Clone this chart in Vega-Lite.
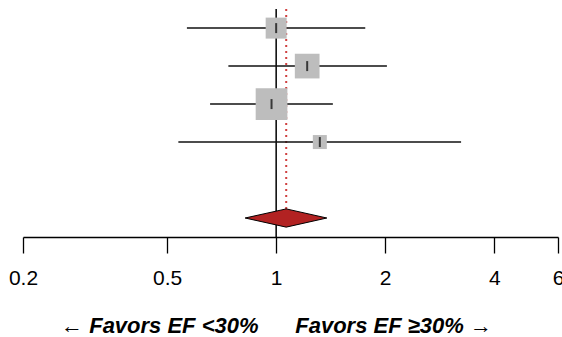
{
  "$schema": "https://vega.github.io/schema/vega-lite/v6.json",
  "autosize": "none",
  "width": 535,
  "height": 237,
  "padding": {"left": 23, "top": 0, "right": 4, "bottom": 100},
  "background": "white",
  "config": {"view": {"stroke": null}, "font": "Liberation Sans"},
  "datasets": {
    "studies": [
      {"row": 1, "est": 1.0, "lo": 0.567, "hi": 1.762, "area": 441},
      {"row": 2, "est": 1.218, "lo": 0.738, "hi": 2.022, "area": 610},
      {"row": 3, "est": 0.971, "lo": 0.657, "hi": 1.434, "area": 1005},
      {"row": 4, "est": 1.32, "lo": 0.537, "hi": 3.24, "area": 196}
    ],
    "pooled": [
      {"x": 0.821, "ya": 6, "yb": 6},
      {"x": 1.066, "ya": 5.76, "yb": 6.24},
      {"x": 1.38, "ya": 6, "yb": 6}
    ],
    "refline": [{"x": 1, "y1": 0.5, "y2": 6.5}],
    "pooledline": [{"x": 1.066, "y1": 0.5, "y2": 5.76}]
  },
  "layer": [
    {
      "data": {"name": "refline"},
      "mark": {"type": "rule", "color": "black", "strokeWidth": 1.5},
      "encoding": {
        "x": {"field": "x", "type": "quantitative", "scale": {"type": "log", "domain": [0.2, 6], "nice": false},
          "axis": {
            "values": [0.2, 0.5, 1, 2, 4, 6],
            "format": "~g",
            "grid": false,
            "domainColor": "black",
            "domainWidth": 1.3,
            "tickColor": "black",
            "tickWidth": 1.3,
            "tickSize": 16,
            "labelFontSize": 21,
            "labelColor": "black",
            "labelPadding": 14,
            "labelFlush": false,
            "labelOverlap": false,
            "title": "← Favors EF <30%\u00a0\u00a0\u00a0\u00a0\u00a0\u00a0Favors EF ≥30% →",
            "titleFontSize": 22,
            "titleFontWeight": "bold",
            "titleFontStyle": "italic",
            "titleColor": "black",
            "titleX": 253,
            "titleY": 95,
            "titleAlign": "center",
            "titleBaseline": "alphabetic"
          }
        },
        "y": {"field": "y1", "type": "quantitative", "scale": {"domain": [0.26, 6.5], "reverse": true, "zero": false, "nice": false}, "axis": null},
        "y2": {"field": "y2"}
      }
    },
    {
      "data": {"name": "pooledline"},
      "mark": {"type": "rule", "color": "#d04040", "strokeWidth": 2, "strokeDash": [2, 4]},
      "encoding": {
        "x": {"field": "x", "type": "quantitative"},
        "y": {"field": "y1", "type": "quantitative"},
        "y2": {"field": "y2"}
      }
    },
    {
      "data": {"name": "studies"},
      "mark": {"type": "rule", "color": "#111111", "strokeWidth": 1.5},
      "encoding": {
        "x": {"field": "lo", "type": "quantitative"},
        "x2": {"field": "hi"},
        "y": {"field": "row", "type": "quantitative"}
      }
    },
    {
      "data": {"name": "studies"},
      "mark": {"type": "point", "shape": "square", "filled": true, "color": "#bdbdbd", "opacity": 1},
      "encoding": {
        "x": {"field": "est", "type": "quantitative"},
        "y": {"field": "row", "type": "quantitative"},
        "size": {"field": "area", "type": "quantitative", "scale": null, "legend": null}
      }
    },
    {
      "data": {"name": "studies"},
      "mark": {"type": "tick", "orient": "vertical", "color": "black", "size": 10, "thickness": 2},
      "encoding": {
        "x": {"field": "est", "type": "quantitative"},
        "y": {"field": "row", "type": "quantitative"}
      }
    },
    {
      "data": {"name": "pooled"},
      "mark": {"type": "area", "fill": "#b22222", "stroke": "black", "strokeWidth": 1, "opacity": 1, "fillOpacity": 1},
      "encoding": {
        "x": {"field": "x", "type": "quantitative"},
        "y": {"field": "ya", "type": "quantitative"},
        "y2": {"field": "yb"}
      }
    }
  ]
}
